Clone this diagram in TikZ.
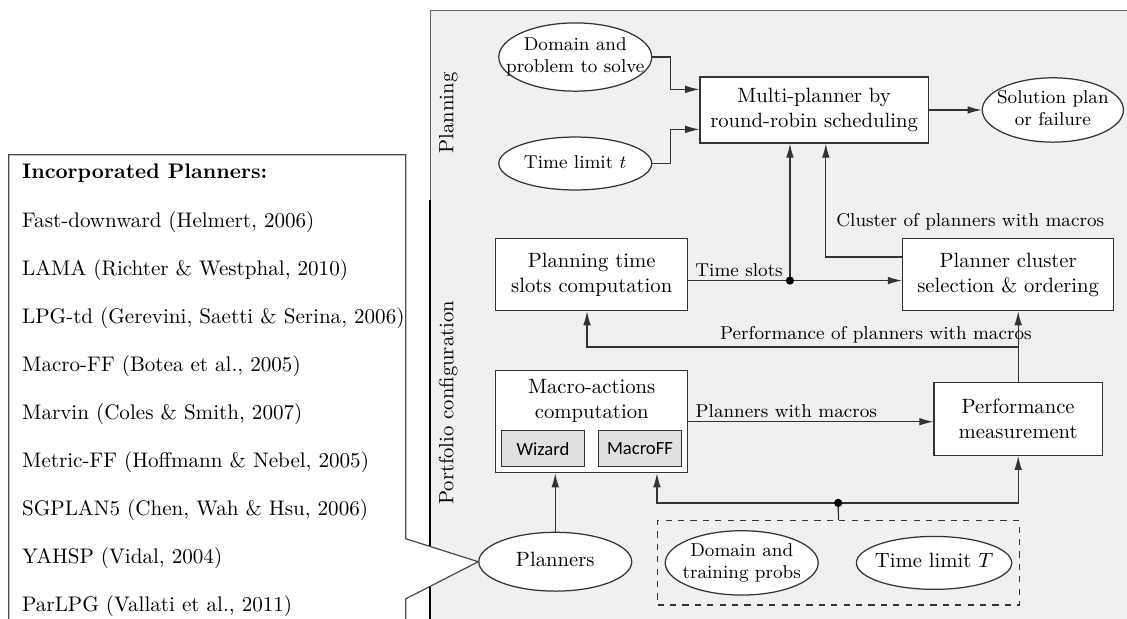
\documentclass[tikz,border=0pt]{standalone}
\usepackage{fontspec}
\newfontfamily\toolfont{Carlito}
\usetikzlibrary{shapes.geometric,fit,arrows.meta}
% text that does not widen the ellipse around it
\newcommand{\ovtext}[1]{\makebox[0pt]{\begin{tabular}{@{}c@{}}#1\end{tabular}}}

\begin{document}
\begin{tikzpicture}[
    box/.style={draw=black!80, fill=white, line width=0.6pt, align=center, inner sep=2pt},
    oval/.style={ellipse, draw=black!80, fill=white, line width=0.6pt, inner sep=0pt},
    tool/.style={draw=black!80, fill=black!12, line width=0.6pt, font=\toolfont\small, minimum width=1.41cm, minimum height=0.61cm},
    flow/.style={-{Latex[length=2.4mm,width=1.3mm]}, draw=black!80, line width=0.6pt},
    lbl/.style={font=\small, inner sep=1.5pt},
  ]
    \clip (0,0) rectangle (19.16,10.52);

    % grey panel
    \draw[fill=black!6, draw=black!60] (7.31,-0.5) rectangle (19.8,10.34);
    \draw[line width=0.8pt] (7.31,7.12) -- (7.31,-0.5);
    \node[rotate=90] (lplan) at (7.62,8.60) {Planning};
    \node[rotate=90] (lport) at (7.62,3.67) {Portfolio configuration};

    % planning part
    \node[oval, font=\small, minimum width=2.60cm, minimum height=1.16cm] (dom) at (9.78,9.55) {\ovtext{Domain and\\problem to solve}};
    \node[oval, font=\small, minimum width=2.60cm, minimum height=0.90cm] (tl) at (9.78,7.74) {\ovtext{Time limit $t$}};
    \node[box, minimum width=3.88cm, minimum height=1.12cm] (mp) at (13.84,8.65) {Multi-planner by\\round-robin scheduling};
    \node[oval, font=\small, minimum width=2.40cm, minimum height=1.00cm] (sol) at (17.90,8.65) {\ovtext{Solution plan\\or failure}};

    \draw[flow] (dom.east) -- ++(0.31,0) |- ([yshift=3.5mm]mp.west);
    \draw[flow] (tl.east) -- ++(0.31,0) |- ([yshift=-3.3mm]mp.west);
    \draw[flow] (mp) -- (sol);

    % portfolio configuration
    \node[box, minimum width=3.26cm, minimum height=1.22cm] (pt) at (10.06,5.85) {Planning time\\slots computation};
    \node[box, minimum width=3.59cm, minimum height=1.22cm] (pc) at (17.14,5.85) {Planner cluster\\selection \& ordering};
    \node[box, minimum width=3.26cm, minimum height=1.73cm] (mac) at (10.06,3.35) {};
    \node[align=center] (mactxt) at (10.06,3.71) {Macro-actions\\computation};
    \node[tool] (wiz) at (9.23,2.89) {Wizard};
    \node[tool] (mff) at (10.88,2.89) {MacroFF};
    \node[box, minimum width=2.86cm, minimum height=1.24cm] (pm) at (17.31,3.40) {Performance\\measurement};

    \node[oval, minimum width=2.60cm, minimum height=1.00cm] (pl) at (9.44,0.97) {\ovtext{Planners}};
    \node[oval, font=\small, minimum width=2.60cm, minimum height=0.90cm] (dtp) at (12.61,0.95) {\ovtext{Domain and\\training probs}};
    \node[oval, minimum width=2.64cm, minimum height=0.90cm] (tlT) at (15.88,0.95) {\ovtext{Time limit $T$}};
    \node[draw=black!80, dashed, line width=0.6pt, inner xsep=0.12cm, inner ysep=0.16cm, fit=(dtp)(tlT)] (trbox) {};

    \coordinate (ts) at (13.43,5.75);
    \coordinate (cl) at (14.04,6.15);
    \coordinate (pf) at (17.31,4.62);
    \coordinate (pfl) at (9.98,4.62);
    \coordinate (tr) at (14.25,1.97);

    \draw[draw=black!80, line width=0.6pt] (pt.east |- ts) -- node[lbl, above] (tslbl) {Time slots} (ts);
    \draw[flow] (ts) -- (pc.west |- ts);
    \draw[flow] (ts) -- (ts |- mp.south);
    \fill (ts) circle (2pt);

    \draw[flow] (pc.west |- cl) -- (cl) -- (cl |- mp.south);
    \node[lbl, anchor=west] (cllbl) at (14.16,6.75) {Cluster of planners with macros};

    \draw[flow] (pm.north) -- (pm.north |- pc.south);
    \draw[flow] (pf) -- node[lbl, pos=0.33, above] (pflbl) {Performance of planners with macros} (pfl) -- (pfl |- pt.south);

    \draw[flow] (mac.east) -- node[lbl, pos=0.4, above] (pwlbl) {Planners with macros} (mac.east -| pm.west);
    \draw[flow] (pl.north) -- (pl.north |- mac.south);

    \draw[draw=black!80, line width=0.6pt] (trbox.north) -- (tr);
    \draw[flow] (tr) -| (trbox.west |- mac.south);
    \draw[flow] (tr) -| (pm.south);
    \fill (tr) circle (2pt);

    % list of planners
    \draw[fill=white, draw=black!70, line width=0.6pt] (6.90,1.36) -- (pl.west) -- (6.90,0.34) -- (6.90,-0.5) -- (0.15,-0.5) -- (0.15,7.89) -- (6.90,7.89) -- cycle;
    \node[anchor=base west, inner xsep=0pt, font=\fontsize{10.2}{12}\selectfont] (ptitle) at (0.37,7.48) {\textbf{Incorporated Planners:}};
    \foreach \name [count=\i] in {{Fast-downward (Helmert, 2006)}, {LAMA (Richter \& Westphal, 2010)},
        {LPG-td (Gerevini, Saetti \& Serina, 2006)}, {Macro-FF (Botea et al., 2005)},
        {Marvin (Coles \& Smith, 2007)}, {Metric-FF (Hoffmann \& Nebel, 2005)},
        {SGPLAN5 (Chen, Wah \& Hsu, 2006)}, {YAHSP (Vidal, 2004)}, {ParLPG (Vallati et al., 2011)}}
      \node[anchor=base west, inner xsep=0pt, font=\fontsize{10.2}{12}\selectfont] (p\i) at (0.37,{6.66-0.816*(\i-1)}) {\name};
\end{tikzpicture}
\end{document}
